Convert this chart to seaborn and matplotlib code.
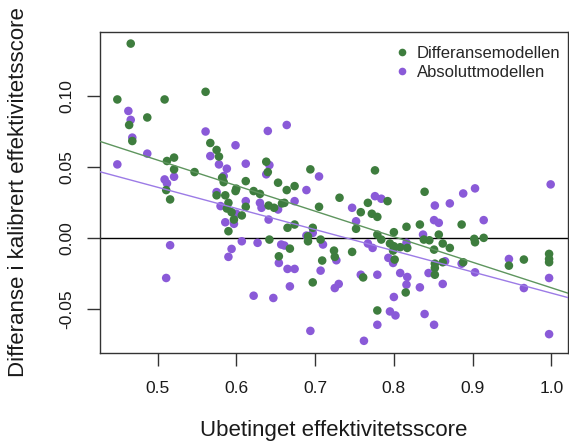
import numpy as np
import pandas as pd
import matplotlib
matplotlib.use("Agg")
import matplotlib.pyplot as plt
from matplotlib.lines import Line2D
import seaborn as sns

# ---- data ----
diff_x = [0.466, 0.449, 0.509, 0.561, 0.487, 0.464, 0.468, 0.567, 0.575, 0.578,
          0.521, 0.512, 0.521, 0.547, 0.582, 0.584, 0.612, 0.600, 0.586, 0.622,
          0.511, 0.638, 0.640, 0.694, 0.776, 0.653, 0.664, 0.674, 0.630, 0.731,
          0.839, 0.516, 0.575, 0.599, 0.590, 0.612, 0.588, 0.594, 0.607, 0.597,
          0.590, 0.641, 0.648, 0.658, 0.661, 0.792, 0.767, 0.705, 0.758, 0.772,
          0.779, 0.665, 0.674, 0.752, 0.697, 0.691, 0.691, 0.707, 0.642, 0.668,
          0.654, 0.709, 0.724, 0.725, 0.747, 0.779, 0.784, 0.795, 0.800, 0.816,
          0.800, 0.808, 0.817, 0.799, 0.801, 0.815, 0.761, 0.697, 0.779, 0.833,
          0.886, 0.857, 0.838, 0.845, 0.862, 0.871, 0.851, 0.902, 0.903, 0.914,
          0.946, 0.965, 0.997, 0.997, 0.997, 0.888, 0.862, 0.852, 0.852, 0.852]
diff_y = [0.137, 0.0976, 0.0976, 0.103, 0.0849, 0.0796, 0.0683, 0.0669, 0.062, 0.0573,
          0.0566, 0.0542, 0.0483, 0.0464, 0.0424, 0.0393, 0.040, 0.0347, 0.030, 0.033,
          0.0337, 0.0537, 0.0464, 0.0483, 0.0476, 0.0389, 0.0337, 0.0365, 0.031, 0.0283,
          0.0325, 0.0271, 0.030, 0.033, 0.0247, 0.0219, 0.0207, 0.0181, 0.0158, 0.0129,
          0.0047, 0.0228, 0.0212, 0.0243, 0.0247, 0.0259, 0.0247, 0.0219, 0.0181, 0.017,
          0.0148, 0.0071, 0.0094, 0.0064, 0.0071, 0.0011, -0.0024, -0.0012, -0.0012, -0.0076,
          -0.013, -0.016, -0.009, -0.0134, -0.0099, 0.0023, -0.0012, -0.004, 0.004, 0.0078,
          -0.0059, -0.0066, -0.0071, -0.009, -0.0153, -0.0385, -0.0279, -0.0314, -0.0512, 0.0094,
          0.0094, 0.0023, -0.0012, -0.0017, -0.004, -0.0071, -0.0083, -0.0007, -0.0031, 0.0,
          -0.0196, -0.0153, -0.0113, -0.0149, -0.0172, -0.0172, -0.0172, -0.0182, -0.0212, -0.026]

abs_x = [0.463, 0.466, 0.468, 0.449, 0.487, 0.561, 0.599, 0.567, 0.578, 0.588,
         0.612, 0.509, 0.512, 0.521, 0.584, 0.575, 0.640, 0.664, 0.642, 0.638,
         0.705, 0.689, 0.776, 0.888, 0.903, 0.999, 0.516, 0.511, 0.580, 0.612,
         0.600, 0.586, 0.597, 0.607, 0.627, 0.594, 0.590, 0.622, 0.630, 0.632,
         0.653, 0.674, 0.784, 0.747, 0.641, 0.752, 0.697, 0.689, 0.710, 0.657,
         0.661, 0.654, 0.665, 0.674, 0.707, 0.727, 0.767, 0.773, 0.816, 0.793,
         0.799, 0.808, 0.817, 0.816, 0.800, 0.758, 0.779, 0.730, 0.725, 0.668,
         0.647, 0.795, 0.802, 0.779, 0.694, 0.762, 0.852, 0.871, 0.851, 0.857,
         0.914, 0.837, 0.946, 0.997, 0.965, 0.997, 0.903, 0.886, 0.865, 0.844,
         0.862, 0.833, 0.839, 0.851]
abs_y = [0.0895, 0.0832, 0.0707, 0.0518, 0.0594, 0.075, 0.0653, 0.0577, 0.0518, 0.0488,
         0.0523, 0.0412, 0.0384, 0.0431, 0.0436, 0.0323, 0.0754, 0.0796, 0.0513, 0.0448,
         0.0433, 0.0337, 0.0294, 0.0313, 0.0349, 0.0377, -0.0052, -0.0283, 0.0224, 0.0259,
         0.017, 0.011, 0.0099, -0.0024, -0.0035, -0.0078, -0.0134, -0.0408, 0.0247, 0.0212,
         0.020, 0.0259, 0.0276, 0.0212, 0.0129, 0.0117, 0.0035, 0.0016, -0.0047, -0.0047,
         -0.0054, -0.0177, -0.0219, -0.0219, -0.0231, -0.0158, -0.004, -0.0071, -0.0035, -0.0141,
         -0.0177, -0.0248, -0.0276, -0.033, -0.0417, -0.026, -0.026, -0.0325, -0.0354, -0.0342,
         -0.0424, -0.0519, -0.0547, -0.0613, -0.0656, -0.0726, 0.0228, 0.0243, 0.0125, 0.0106,
         0.0125, 0.0023, -0.0149, -0.0283, -0.0354, -0.0679, -0.0243, -0.0182, -0.0165, -0.0248,
         -0.0325, -0.0349, -0.0537, -0.0613]

series_names = ["Differansemodellen", "Absoluttmodellen"]
x_ticks = [0.5, 0.6, 0.7, 0.8, 0.9, 1.0]
x_ticklabels = ["0.5", "0.6", "0.7", "0.8", "0.9", "1.0"]
y_ticks = [-0.05, 0.0, 0.05, 0.10]
y_ticklabels = ["-0.05", "0.00", "0.05", "0.10"]
x_title = "Ubetinget effektivitetsscore"
y_title = "Differanse i kalibrert effektivitetsscore"

# ---- styling ----
sns.set_theme(style="white")
plt.rcParams["font.family"] = ["Liberation Sans", "DejaVu Sans"]

GREEN = "#3E7D3E"
PURPLE = "#8A5AD8"

df_diff = pd.DataFrame({"x": diff_x, "y": diff_y})
df_abs = pd.DataFrame({"x": abs_x, "y": abs_y})

fig = plt.figure(figsize=(5.69, 4.41), dpi=100)
ax = fig.add_axes([100 / 569, 1 - 352.7 / 441, 468 / 569, 321 / 441])

# R-style 4% padding on limits
allx = np.array(diff_x + abs_x)
ally = np.array(diff_y + abs_y)
rx = allx.max() - allx.min()
ry = ally.max() - ally.min()
ax.set_xlim(allx.min() - 0.04 * rx, allx.max() + 0.04 * rx)
ax.set_ylim(ally.min() - 0.04 * ry, ally.max() + 0.04 * ry)

ax.axhline(0, color="black", lw=1.0, zorder=1)

sns.scatterplot(data=df_abs, x="x", y="y", ax=ax, color=PURPLE, s=38,
                edgecolor="none", linewidth=0, zorder=2, legend=False)
sns.scatterplot(data=df_diff, x="x", y="y", ax=ax, color=GREEN, s=38,
                edgecolor="none", linewidth=0, zorder=3, legend=False)

sns.regplot(data=df_diff, x="x", y="y", ax=ax, scatter=False, ci=None,
            truncate=False, line_kws={"color": "#5E955E", "lw": 1.0, "zorder": 4})
sns.regplot(data=df_abs, x="x", y="y", ax=ax, scatter=False, ci=None,
            truncate=False, line_kws={"color": "#9C7BE6", "lw": 1.0, "zorder": 4})

ax.set_xticks(x_ticks)
ax.set_xticklabels(x_ticklabels)
ax.set_yticks(y_ticks)
ax.set_yticklabels(y_ticklabels, rotation=90, va="center")
ax.tick_params(axis="both", which="major", direction="out", length=9.5,
               width=1.0, color="#333333", labelsize=12.5, labelcolor="#1a1a1a",
               bottom=True, left=True)
ax.tick_params(axis="x", pad=11)
ax.tick_params(axis="y", pad=9)

for sp in ax.spines.values():
    sp.set_visible(True)
    sp.set_color("#333333")
    sp.set_linewidth(1.0)

ax.set_xlabel(x_title, fontsize=16, color="#1a1a1a")
ax.set_ylabel(y_title, fontsize=16, color="#1a1a1a")
ax.xaxis.set_label_coords((334 - 100) / 468, -(420 - 352.7) / 321)
ax.yaxis.set_label_coords(-(100 - 29) / 468, 0.5)

handles = [Line2D([0], [0], marker="o", linestyle="none", markersize=5.5,
                  markerfacecolor=c, markeredgecolor="none") for c in (GREEN, PURPLE)]
ax.legend(handles, series_names, loc="upper right",
          bbox_to_anchor=(1.0 + 6 / 468, 1.0 - 1 / 321),
          frameon=False, fontsize=12, handlelength=0.6, handletextpad=0.6,
          labelspacing=0.25, borderpad=0.6, borderaxespad=0.2)

fig.savefig("out.png", dpi=100)
